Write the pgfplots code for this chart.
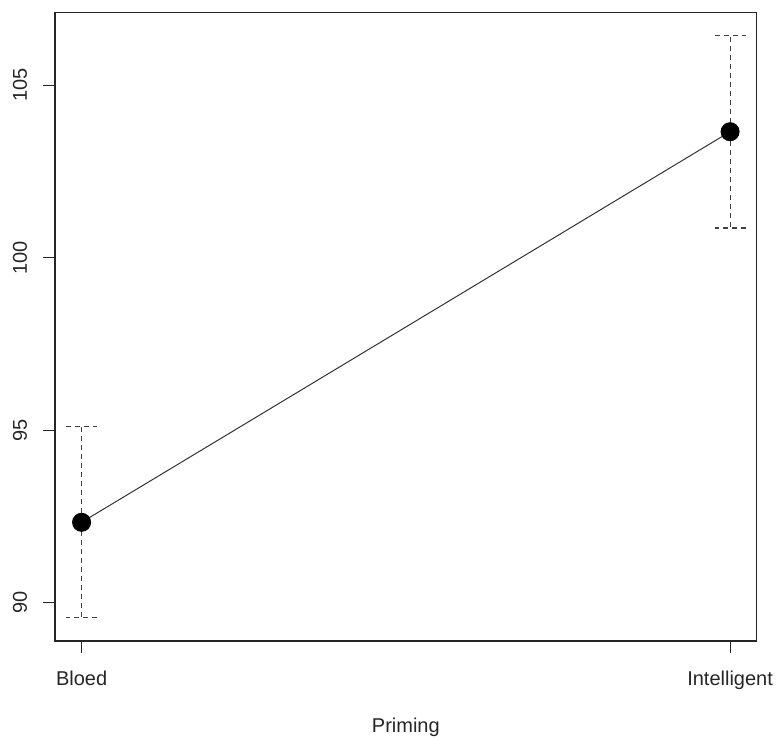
\documentclass[border=0pt]{standalone}
\usepackage{fontspec}
\setmainfont{Liberation Sans}
\usepackage{pgfplots}
\pgfplotsset{compat=1.18}

\pgfplotstableread{
x   y       ep    em
0   92.33   2.77  2.75
1   103.65  2.80  2.79
}\priming

\begin{document}
\begin{tikzpicture}[font=\fontsize{12}{14.4}\selectfont]
\useasboundingbox (-33pt,-58.2pt) rectangle (434.4pt,384.6pt);
\begin{axis}[
  scale only axis, width=421pt, height=377.2pt,
  xmin=-0.041, xmax=1.041, ymin=88.89, ymax=107.11,
  xtick={0,1}, xticklabels={Bloed,Intelligent},
  ytick={90,95,100,105},
  xtick pos=bottom, ytick pos=left,
  tick align=outside, major tick length=7.2pt,
  axis line style={black!85, line width=0.7pt},
  every tick/.style={black!85, line width=0.7pt},
  /pgf/number format/assume math mode=true,
  yticklabel style={xshift=-6pt, rotate=90, anchor=south, text=black!85},
  xticklabel style={yshift=-7.2pt, anchor=north, text=black!85},
  xlabel={Priming},
  xlabel style={yshift=-10.5pt, text=black!85},
  clip=false,
]
\addplot[draw=none, mark=none, black!70,
  error bars/.cd, y dir=both, y explicit,
  error bar style={black!75, line width=0.7pt, dash pattern=on 3pt off 2.4pt},
  error mark options={rotate=90, mark size=9.3pt, black!75, line width=0.7pt, dash pattern=on 3pt off 2.4pt}]
  table[x=x, y=y, y error plus=ep, y error minus=em] {\priming};
\addplot[black!80, line width=0.6pt, mark=*, mark size=5.4pt,
  mark options={fill=black, draw=black, solid}]
  table[x=x, y=y] {\priming};
\end{axis}
\end{tikzpicture}
\end{document}
